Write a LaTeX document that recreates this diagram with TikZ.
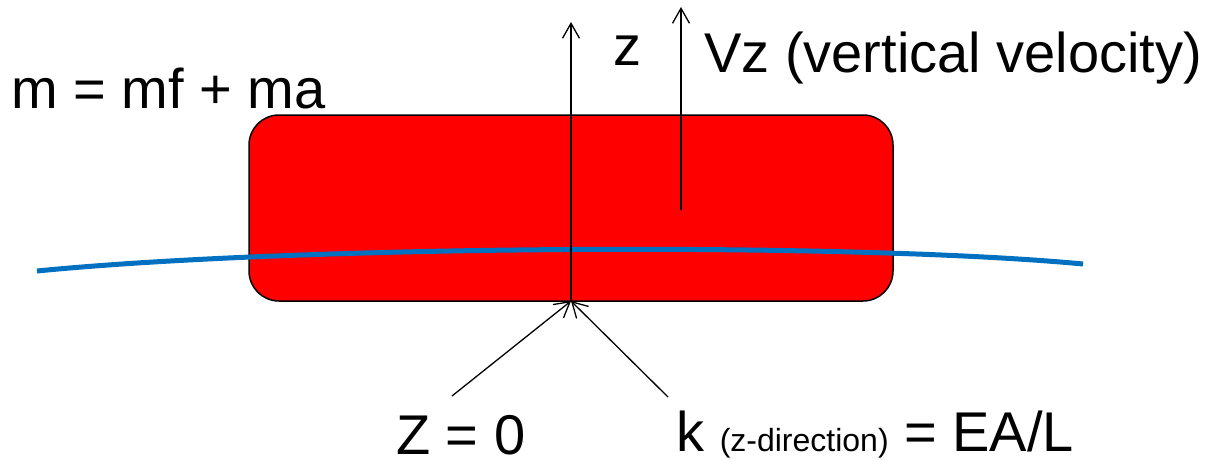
\documentclass[tikz,border=0pt]{standalone}
\usepackage{fontspec}
\setmainfont{Liberation Sans}
\usetikzlibrary{arrows.meta}
\begin{document}
\begin{tikzpicture}[x=1pt,y=-1pt,
  body/.style={draw=black,line width=1.5pt,fill=red,rounded corners=30pt},
  axis/.style={draw=black,line width=1.3pt,-{Straight Barb[length=15pt,width=17pt,line width=1.3pt]}},
  wave/.style={draw={rgb,255:red,0;green,112;blue,192},line width=5pt},
  lbl/.style={inner sep=0pt,anchor=base west,font=\fontsize{56}{60}\selectfont}]
\useasboundingbox (0,0) rectangle (1219,460);
\path[body] (249,115) rectangle (893,301);
\path[wave] (37,271) .. controls (300,245) and (850,242) .. (1083,264);
\coordinate (base) at (571,301);
\coordinate (ztip) at (571,22);
\coordinate (vbase) at (681,210);
\coordinate (vtip) at (681,7);
\coordinate (lfoot) at (452,396);
\coordinate (rfoot) at (668,397);
\draw[axis] (base) -- (ztip);
\draw[axis] (vbase) -- (vtip);
\draw[axis] (lfoot) -- (base);
\draw[axis] (rfoot) -- (base);
\node[lbl] (zl) at (613,66) {z};
\node[lbl] (vz) at (704,73) {Vz (vertical velocity)};
\node[lbl] (m) at (11,108) {m = mf + ma};
\node[lbl,text depth=0pt] (z0) at (396,454) {Z = 0};
\node[lbl,text depth=0pt] (k) at (676,451) {k {\fontsize{32}{34}\selectfont (z-direction)} = EA/L};
\end{tikzpicture}
\end{document}
